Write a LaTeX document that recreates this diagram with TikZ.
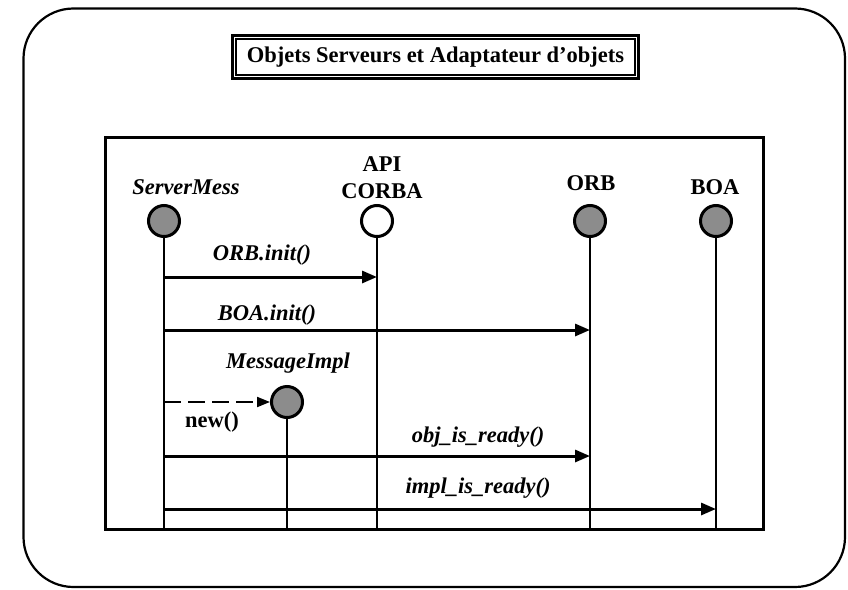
\documentclass[tikz,border=0pt]{standalone}
\usepackage{fontspec}
\setmainfont{Liberation Serif}
\usetikzlibrary{calc, arrows.meta}

\begin{document}
\begin{tikzpicture}[x = 1pt, y = -1pt, >={Triangle[length = 15pt, width = 12pt]},
                    every node/.style = {font = \fontsize{22.5}{27}\selectfont\bfseries, inner sep = 0pt},
                    obj/.style = {circle, draw, line width = 3pt, minimum size = 31pt, fill = black!45},
                    msg/.style = {black, line width = 3pt, ->},
                    life/.style = {black, line width = 1.5pt}]
                    \useasboundingbox (0, 0) rectangle (848, 589);
                    
                    \coordinate (frame_nw) at (105, 137);
                    \coordinate (frame_se) at (763, 529);
                    \coordinate (msg_orbinit) at (0, 277);
                    \coordinate (msg_boainit) at (0, 330);
                    \coordinate (msg_objready) at (0, 456);
                    \coordinate (msg_implready) at (0, 509);
                    
                    \draw[black, line width = 2.2pt, rounded corners = 50pt](23.5, 8.5) rectangle (845, 587);
                    
                    \node[draw, line width = 3pt, minimum width = 406pt, minimum height = 43pt] (title) at (435.5, 57) {Objets Serveurs et Adaptateur d'objets};
                    \draw[black, line width = 1.5pt]($(title.south west) + (5, -5)$) rectangle ($(title.north east) + (-5, 5)$);
                    
                    \draw[black, line width = 3pt](frame_nw) rectangle (frame_se);
                    
                    \node[obj] (obj_server) at (164, 221) {};
                    \node[anchor = base] (lbl_server) at (186, 194) {\itshape ServerMess};
                    
                    \node[obj, fill = white] (obj_api) at (377, 221) {};
                    \node[anchor = south, align = center] (lbl_api) at (382, 199) {API\\CORBA};
                    
                    \node[obj] (obj_orb) at (590, 221) {};
                    \node[anchor = base] (lbl_orb) at (591, 190) {ORB};
                    
                    \node[obj] (obj_boa) at (716, 221) {};
                    \node[anchor = base] (lbl_boa) at (715, 194) {BOA};
                    
                    \node[obj] (obj_impl) at (287, 402) {};
                    \node[anchor = base] (lbl_impl) at (288, 368) {\itshape MessageImpl};
                    
                    \draw[life](obj_server) -- (obj_server |- frame_se);
                    \draw[life](obj_api) -- (obj_api |- frame_se);
                    \draw[life](obj_orb) -- (obj_orb |- frame_se);
                    \draw[life](obj_boa) -- (obj_boa |- frame_se);
                    \draw[life](obj_impl) -- (obj_impl |- frame_se);
                    
                    \draw[msg](obj_server |- msg_orbinit) -- (obj_api |- msg_orbinit);
                    \node[anchor = base] (lbl_orbinit) at (262, 260) {\itshape ORB.init()};
                    
                    \draw[msg](obj_server |- msg_boainit) -- (obj_orb |- msg_boainit);
                    \node[anchor = base] (lbl_boainit) at (267, 320) {\itshape BOA.init()};
                    
                    \draw[black, line width = 2pt, dash pattern = on 17pt off 7pt, -{Triangle[length = 13pt, width = 10pt]}](obj_server |- obj_impl) -- (obj_impl);
                    \node[anchor = base] (lbl_new) at (212, 427) {new()};
                    
                    \draw[msg](obj_server |- msg_objready) -- (obj_orb |- msg_objready);
                    \node[anchor = base] (lbl_objready) at (478, 442) {\itshape obj\_is\_ready()};
                    
                    \draw[msg](obj_server |- msg_implready) -- (obj_boa |- msg_implready);
                    \node[anchor = base] (lbl_implready) at (478, 493) {\itshape impl\_is\_ready()};
                \end{tikzpicture}
\end{document}
